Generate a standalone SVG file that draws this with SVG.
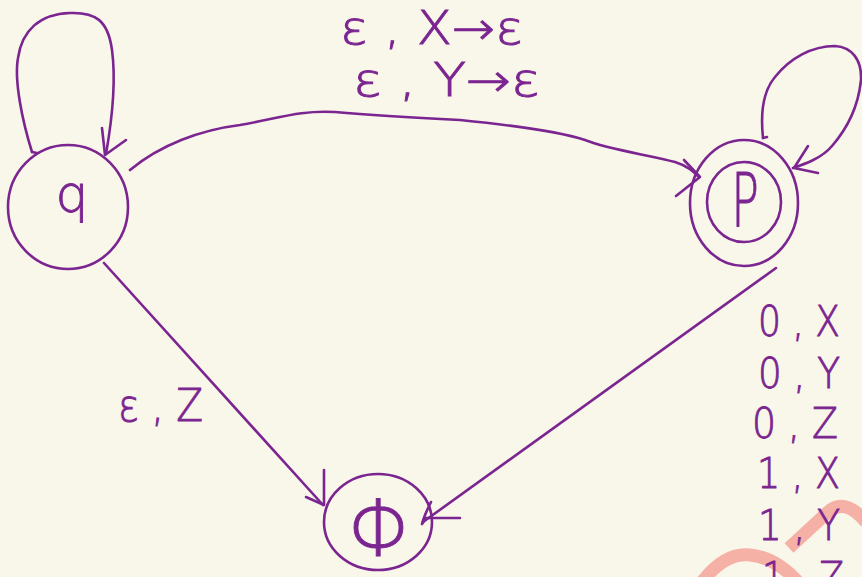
<svg xmlns="http://www.w3.org/2000/svg" width="862" height="577" viewBox="0 0 862 577">
  <style>
    .ln { fill: none; stroke: #7b2590; stroke-width: 2.6; stroke-linecap: round; stroke-linejoin: round; }
    .tx { fill: #7b2590; stroke: #7b2590; stroke-width: 0.9; font-family: "DejaVu Sans", "Liberation Sans", sans-serif; font-weight: 200; }
    .wm { fill: none; stroke: #f6b1a6; stroke-width: 13; }
  </style>
  <rect width="862" height="577" fill="#f9f6ea"/>

  <g id="watermark">
    <path class="wm" d="M 702 582 Q 725 552 750 555 Q 775 557 798 582"/>
    <path class="wm" d="M 789 548 L 828 512 Q 845 497 866 522"/>
  </g>

  <g id="connectors">
    <!-- q self loop -->
    <path class="ln" d="M 32 152 C 22 120 14 80 18 58 C 22 30 40 14 70 13 C 95 12 108 20 112 50 C 116 80 112 120 106 154"/>
    <path class="ln" d="M 102 128 L 105 155 L 126 140"/>
    <path class="ln" d="M 32 152 L 37 153"/>
    <!-- p self loop -->
    <path class="ln" d="M 763 138 C 760 110 764 90 775 77 C 790 58 812 46 835 46 C 852 47 862 60 861 80 C 858 110 846 130 832 146 C 822 158 805 164 793 168"/>
    <path class="ln" d="M 808 146 L 794 168 L 818 173"/>
    <path class="ln" d="M 763 138 L 767 137"/>
    <!-- q to p arc -->
    <path class="ln" d="M 130 170 C 160 145 200 130 240 125 C 280 118 300 110 335 112 C 380 116 420 118 460 120 C 520 126 560 132 585 140 C 610 150 650 155 675 162 C 688 166 694 172 699 177"/>
    <path class="ln" d="M 684 160 L 700 177 L 676 196"/>
    <!-- q to phi -->
    <path class="ln" d="M 104 263 L 323 505"/>
    <path class="ln" d="M 324 470 L 324 505 L 306 497"/>
    <!-- p to phi -->
    <path class="ln" d="M 776 268 L 423 522"/>
    <path class="ln" d="M 431 502 C 427 510 424 516 422 524 L 426 518 L 460 518"/>
  </g>

  <g id="q">
    <ellipse class="ln" cx="68" cy="207" rx="60" ry="62"/>
    <text class="tx" x="72" y="212" font-size="52" text-anchor="middle">q</text>
  </g>

  <g id="p">
    <ellipse class="ln" cx="744" cy="203" rx="54" ry="63"/>
    <ellipse class="ln" cx="744" cy="202" rx="37" ry="40"/>
    <text class="tx" transform="translate(745,227) scale(0.62,1)" font-size="74" text-anchor="middle">P</text>
  </g>

  <g id="phi">
    <ellipse class="ln" cx="378" cy="522" rx="54" ry="48"/>
    <text class="tx" x="381" y="556" font-size="78" text-anchor="middle">Φ</text>
  </g>

  <g id="labels">
    <text class="tx" x="340" y="44" font-size="46" textLength="183" lengthAdjust="spacingAndGlyphs">ε , X→ε</text>
    <text class="tx" x="353" y="96" font-size="46" textLength="187" lengthAdjust="spacingAndGlyphs">ε , Y→ε</text>
    <text class="tx" x="118" y="421" font-size="44" textLength="85" lengthAdjust="spacingAndGlyphs">ε , Z</text>
    <text class="tx" x="758" y="336" font-size="42" textLength="82" lengthAdjust="spacingAndGlyphs">0 , X</text>
    <text class="tx" x="758" y="388" font-size="42" textLength="82" lengthAdjust="spacingAndGlyphs">0 , Y</text>
    <text class="tx" x="752" y="438" font-size="42" textLength="86" lengthAdjust="spacingAndGlyphs">0 , Z</text>
    <text class="tx" x="757" y="488" font-size="42" textLength="83" lengthAdjust="spacingAndGlyphs">1 , X</text>
    <text class="tx" x="758" y="540" font-size="42" textLength="82" lengthAdjust="spacingAndGlyphs">1 , Y</text>
    <text class="tx" x="762" y="592" font-size="42" textLength="82" lengthAdjust="spacingAndGlyphs">1 , Z</text>
  </g>
</svg>
